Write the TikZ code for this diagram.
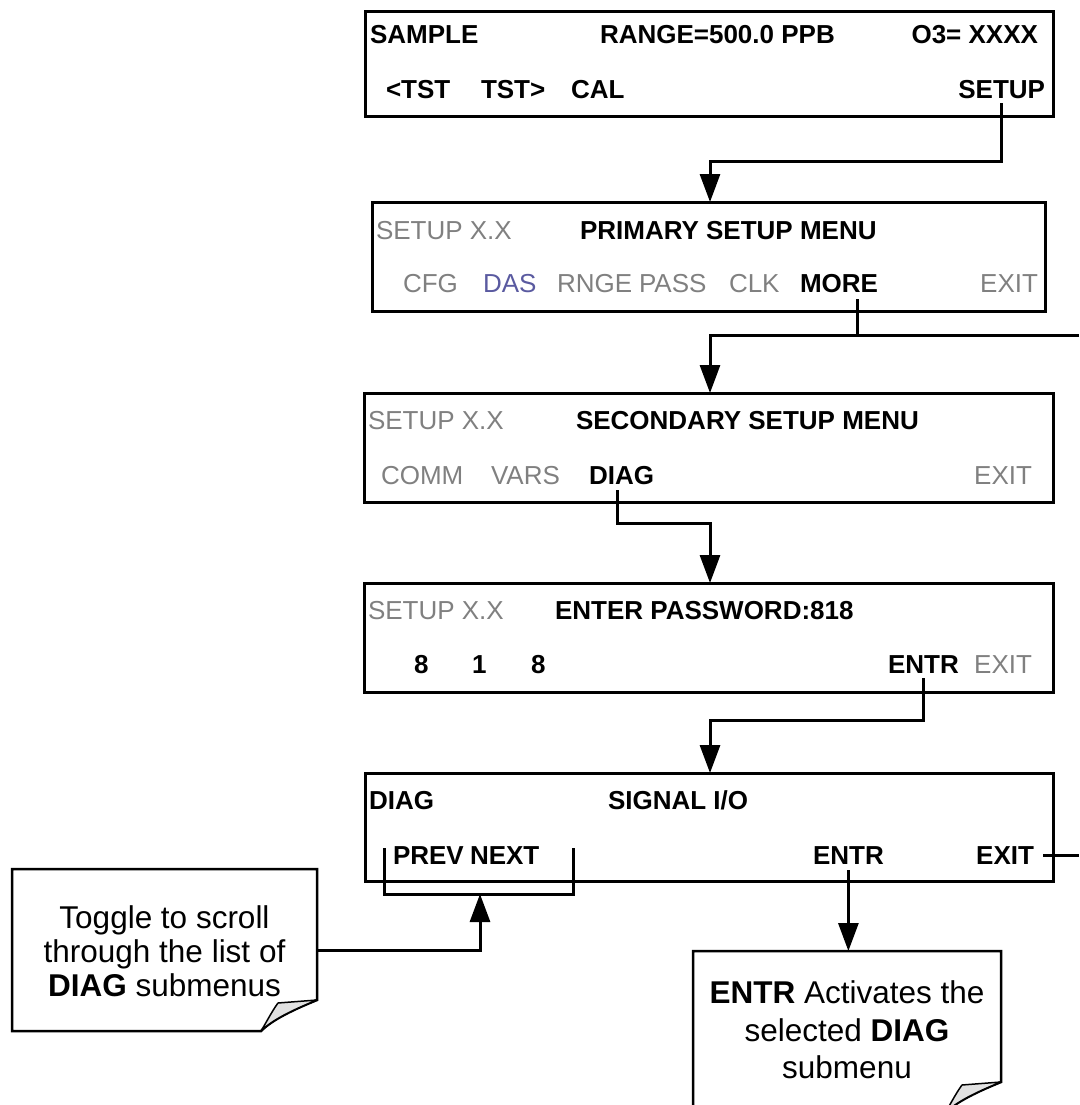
\documentclass[tikz,border=0pt]{standalone}
\usepackage{fontspec}
\setmainfont{Liberation Sans}
\usetikzlibrary{arrows.meta}
\definecolor{txtgray}{RGB}{128,128,128}
\definecolor{dasblue}{RGB}{90,90,160}
\definecolor{foldgray}{RGB}{225,225,225}
\newcommand\menufont{\fontsize{26}{31}\selectfont}
\newcommand\notefont{\fontsize{31.5}{37}\selectfont}
\begin{document}
\begin{tikzpicture}[x=1pt,y=-1pt,
  scr/.style={draw, line width=3pt, inner sep=0, outer sep=0, anchor=north west},
  lb/.style={inner sep=0, outer sep=0, font=\menufont\bfseries, anchor=base west},
  lr/.style={lb, anchor=base east},
  gr/.style={font=\menufont, text=txtgray},
  conn/.style={line width=3pt},
  arr/.style={conn, -{Triangle[length=28pt,width=20pt]}},
  nt/.style={inner sep=0, font=\notefont, anchor=base},
  notebox/.style={inner sep=0, outer sep=0, anchor=north west},
  noteline/.style={line width=2.5pt, line join=miter},
]
\useasboundingbox (0,0) rectangle (1079,1105);
\clip (0,0) rectangle (1079,1105);

% ---------- screens ----------
\node[scr, minimum width=688pt, minimum height=105pt] (b1) at (365,12) {};
\node[scr, minimum width=673pt, minimum height=109pt] (b2) at (372,202) {};
\node[scr, minimum width=689pt, minimum height=109pt] (b3) at (364,393) {};
\node[scr, minimum width=689pt, minimum height=109pt] (b4) at (364,583) {};
\node[scr, minimum width=688pt, minimum height=108pt] (b5) at (365,773) {};

% box 1
\node[lb] (sample) at (370,44) {SAMPLE};
\node[lb] (range) at (600,44) {RANGE=500.0 PPB};
\node[lr] (othree) at (1038,44) {O3= XXXX};
\node[lb] (tstl) at (386,99) {<TST};
\node[lb] (tstr) at (481,99) {TST>};
\node[lb] (cal) at (571,99) {CAL};
\node[lr] (setup) at (1045,99) {SETUP};

% box 2
\node[lb,gr] (ver2) at (376,239) {SETUP X.X};
\node[lb] (prim) at (580,239) {PRIMARY SETUP MENU};
\node[lb,gr] (cfg) at (403,292) {CFG};
\node[lb,gr,text=dasblue] (das) at (483,292) {DAS};
\node[lb,gr] (rnge) at (557,292) {RNGE};
\node[lb,gr] (pass) at (639,292) {PASS};
\node[lb,gr] (clk) at (729,292) {CLK};
\node[lb] (more) at (800,292) {MORE};
\node[lr,gr] (exit2) at (1038,292) {EXIT};

% box 3
\node[lb,gr] (ver3) at (368,429) {SETUP X.X};
\node[lb] (sec) at (576,429) {SECONDARY SETUP MENU};
\node[lb,gr] (comm) at (381,484) {COMM};
\node[lb,gr] (vars) at (491,484) {VARS};
\node[lb] (diag3) at (589,484) {DIAG};
\node[lr,gr] (exit3) at (1032,484) {EXIT};

% box 4
\node[lb,gr] (ver4) at (368,619) {SETUP X.X};
\node[lb] (pwd) at (555,619) {ENTER PASSWORD:818};
\node[lb] (deight) at (414,673) {8};
\node[lb] (done) at (472,673) {1};
\node[lb] (deightb) at (531,673) {8};
\node[lb] (entr4) at (888,673) {ENTR};
\node[lr,gr] (exit4) at (1032,673) {EXIT};

% box 5
\node[lb] (diag5) at (369,809) {DIAG};
\node[lb] (sig) at (608,809) {SIGNAL I/O};
\node[lb] (prev) at (393,864) {PREV};
\node[lb] (next) at (470,864) {NEXT};
\node[lb] (entr5) at (813,864) {ENTR};
\node[lr] (exit5) at (1034,864) {EXIT};

% ---------- notes ----------
\node[notebox, minimum width=305pt, minimum height=162pt] (n1) at (12,869) {};
\node[notebox, minimum width=308pt, minimum height=162pt] (n2) at (693,951) {};

\foreach \n in {n1,n2}{
  \draw[noteline, fill=white] (\n.north west) -- (\n.north east)
    -- ([yshift=31pt]\n.south east)
    .. controls ([xshift=-22pt,yshift=22pt]\n.south east) and ([xshift=-44pt,yshift=12pt]\n.south east) .. ([xshift=-56pt]\n.south east)
    -- (\n.south west) -- cycle;
  \draw[line width=1.5pt, fill=foldgray, line join=round] ([yshift=31pt]\n.south east)
    -- ([xshift=-39pt,yshift=28pt]\n.south east)
    .. controls ([xshift=-45pt,yshift=20pt]\n.south east) and ([xshift=-51pt,yshift=8pt]\n.south east) .. ([xshift=-56pt]\n.south east)
    .. controls ([xshift=-44pt,yshift=12pt]\n.south east) and ([xshift=-22pt,yshift=22pt]\n.south east) .. cycle;
}

\node[nt] (n1a) at (164.5,928) {Toggle to scroll};
\node[nt] (n1b) at (164.5,962) {through the list of};
\node[nt] (n1c) at (164.5,996) {\textbf{DIAG} submenus};
\node[nt] (n2a) at (847,1003) {\textbf{ENTR} Activates the};
\node[nt] (n2b) at (847,1041) {selected \textbf{DIAG}};
\node[nt] (n2c) at (847,1078) {submenu};

% ---------- connectors ----------
\coordinate (j1) at (710,161);
\draw[arr] ([yshift=-4pt]setup.south) |- (j1) -- (j1 |- b2.north);

\coordinate (m2t) at (857,299);
\coordinate (m2) at (857,335);
\coordinate (j2) at (710,335);
\coordinate (e2) at (1079,335);
\draw[conn] (m2t) -- (m2);
\draw[arr] (e2) -- (j2) -- (j2 |- b3.north);

\coordinate (j3) at (710,523);
\draw[arr] ([xshift=-4pt,yshift=-6pt]diag3.south) |- (j3) -- (j3 |- b4.north);

\coordinate (j4) at (710,720);
\draw[arr] ([yshift=-5pt]entr4.south) |- (j4) -- (j4 |- b5.north);

\draw[arr] ([yshift=-6pt]entr5.south) -- (entr5.south |- n2.north);

\coordinate (e5) at (1079,855);
\draw[conn] ([xshift=9pt]exit5.east) -- (exit5.east -| e5);

\coordinate (bl) at (384,848);
\coordinate (br) at (573,848);
\coordinate (bk) at (480,894);
\draw[conn] (bl) |- (bk) -| (br);
\draw[arr] (n1.east) -| (bk);
\end{tikzpicture}
\end{document}
